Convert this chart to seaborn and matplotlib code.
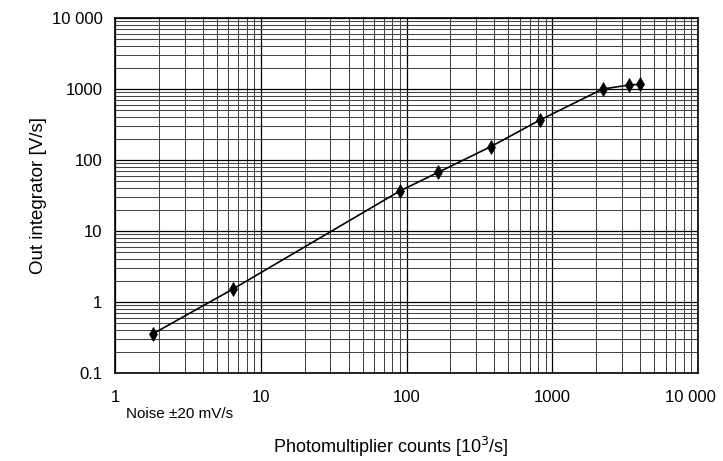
import matplotlib
matplotlib.use("Agg")
import matplotlib.pyplot as plt
import matplotlib.ticker as mticker
import matplotlib.transforms as mtransforms
import seaborn as sns
import pandas as pd

counts = [1.81, 6.4, 90, 165, 378, 824, 2220, 3380, 4000]
out_int = [0.354, 1.51, 36.6, 67, 154, 366, 1000, 1140, 1165]
x_ticks = [1, 10, 100, 1000, 10000]
x_tick_labels = ["1", "10", "100", "1000", "10 000"]
y_ticks = [0.1, 1, 10, 100, 1000, 10000]
y_tick_labels = ["0.1", "1", "10", "100", "1000", "10 000"]

sns.set_theme(style="white")
plt.rcParams["font.family"] = ["Liberation Sans", "DejaVu Sans"]

df = pd.DataFrame({"x": counts, "y": out_int})

fig = plt.figure(figsize=(7.23, 4.61), dpi=100)
ax = fig.add_axes([115 / 723, 1 - 373 / 461, 583 / 723, 355 / 461])

sns.lineplot(data=df, x="x", y="y", ax=ax, color="black", linewidth=1.2,
             marker="d", markersize=7, markeredgecolor="black",
             markeredgewidth=0.5, markerfacecolor="black", zorder=5)

ax.set_xscale("log")
ax.set_yscale("log")
ax.set_xlim(1, 10000)
ax.set_ylim(0.1, 10000)
ax.set_xticks(x_ticks)
ax.set_xticklabels(x_tick_labels)
ax.set_yticks(y_ticks)
ax.set_yticklabels(y_tick_labels)
ax.xaxis.set_minor_locator(mticker.LogLocator(base=10, subs=range(2, 10), numticks=50))
ax.yaxis.set_minor_locator(mticker.LogLocator(base=10, subs=range(2, 10), numticks=50))
ax.xaxis.set_minor_formatter(mticker.NullFormatter())
ax.yaxis.set_minor_formatter(mticker.NullFormatter())

ax.grid(True, which="major", color="black", linewidth=0.9)
ax.grid(True, which="minor", color="#444444", linewidth=0.75)
ax.tick_params(which="both", length=0, labelsize=12, colors="black")
ax.tick_params(axis="x", pad=12)
ax.tick_params(axis="y", pad=9)
for s in ax.spines.values():
    s.set_color("black")
    s.set_linewidth(1.2)

last = ax.get_xticklabels()[-1]
last.set_transform(last.get_transform() + mtransforms.ScaledTranslation(-8 / 100, 0, fig.dpi_scale_trans))

ax.set_xlabel("Photomultiplier counts [10$^3$/s]", fontsize=13, color="black")
ax.xaxis.set_label_coords((390.5 - 115) / 583, (373 - 435) / 355)
ax.set_ylabel("Out integrator [V/s]", fontsize=13.5, color="black")
ax.yaxis.set_label_coords((47 - 115) / 583, 0.5)

fig.text(126 / 723, 1 - 414 / 461, "Noise \u00b120 mV/s", fontsize=11, color="black",
         va="center", ha="left")

fig.savefig("out.png", dpi=100, facecolor="white")
